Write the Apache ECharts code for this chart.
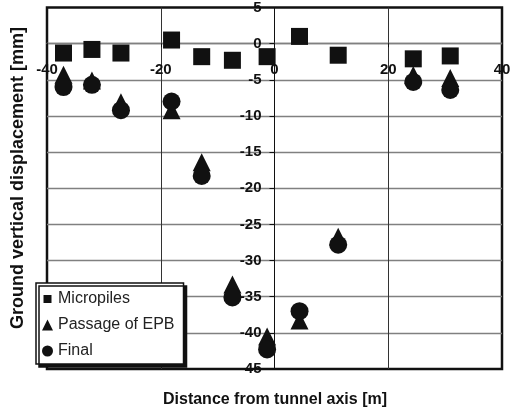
<!DOCTYPE html>
<html><head><meta charset="utf-8">
<script src="https://cdn.jsdelivr.net/npm/echarts@6/dist/echarts.min.js"></script>
<style>html,body{margin:0;padding:0;background:#fff}#c{width:518px;height:411px}</style>
</head><body><div id="c"></div>
<script>
const distances = [-37.1, -32.1, -27.0, -18.1, -12.8, -7.4, -1.3, 4.4, 11.2, 24.4, 30.9];
const micropiles = [-1.3, -0.8, -1.3, 0.5, -1.8, -2.3, -1.8, 1.0, -1.6, -2.1, -1.7];
const passageEPB = [-4.3, -5.1, -8.1, -9.2, -16.4, -33.3, -40.5, -38.3, -26.7, -4.35, -4.75];
const finalVals = [-6.0, -5.7, -9.2, -8.0, -18.3, -35.1, -42.3, -37.0, -27.8, -5.3, -6.4];
const seriesNames = ['Micropiles', 'Passage of EPB', 'Final'];
const xTitle = 'Distance from tunnel axis [m]';
const yTitle = 'Ground vertical displacement [mm]';

const FONT = '"Liberation Sans", Arial, Helvetica, sans-serif';
const INK = '#111';
const pairs = arr => distances.map((d, i) => [d, arr[i]]);

// grid geometry (layout only)
const W = 518, H = 411, GL = 47, GR = 16, GT = 7, GB = 42;
const xMin = -40, xMax = 40, yMin = -45, yMax = 5;
const gw = W - GL - GR, gh = H - GT - GB;
const yAxisShift = gw * (0 - xMin) / (xMax - xMin);      // move y axis to x = 0
const xAxisShift = gh * (0 - yMin) / (yMax - yMin);      // move x axis to y = 0

const chart = echarts.init(document.getElementById('c'), null, {renderer: 'canvas'});
chart.setOption({
  backgroundColor: '#fff',
  animation: false,
  grid: {left: GL, right: GR, top: GT, bottom: GB, show: true, borderColor: INK, borderWidth: 2.5, backgroundColor: 'transparent'},
  xAxis: {
    type: 'value', min: xMin, max: xMax, interval: 20, position: 'bottom', offset: -xAxisShift,
    axisLine: {show: true, onZero: false, lineStyle: {color: '#808080', width: 1.3}},
    axisTick: {show: true, length: 4, lineStyle: {color: INK}},
    axisLabel: {margin: 19, fontFamily: FONT, fontSize: 15, fontWeight: 'bold', color: INK},
    splitLine: {show: true, showMinLine: false, showMaxLine: false, lineStyle: {color: '#333', width: 1}}
  },
  yAxis: {
    type: 'value', min: yMin, max: yMax, interval: 5, position: 'left', offset: -yAxisShift,
    axisLine: {show: true, onZero: false, lineStyle: {color: INK, width: 1}},
    axisTick: {show: true, inside: false, length: 5, lineStyle: {color: INK}},
    axisLabel: {margin: 13, fontFamily: FONT, fontSize: 15, fontWeight: 'bold', color: INK, padding: [4, 0, 0, 0]},
    splitLine: {show: true, showMinLine: false, showMaxLine: false, lineStyle: {color: '#808080', width: 1.3}}
  },
  legend: {
    orient: 'vertical', left: 36, top: 283,
    padding: [8, 9, 5, 6], itemGap: 10, itemWidth: 11, itemHeight: 11,
    backgroundColor: '#fff', borderColor: INK, borderWidth: 1.5, borderRadius: 0,
    shadowColor: INK, shadowOffsetX: 3, shadowOffsetY: 3, shadowBlur: 0,
    textStyle: {fontFamily: FONT, fontSize: 16, lineHeight: 16, color: '#222'},
    data: [
      {name: seriesNames[0], icon: 'path://M0,0M11,11M1.5,1.5h8v8h-8z'},
      {name: seriesNames[1], icon: 'triangle'},
      {name: seriesNames[2], icon: 'circle'}
    ]
  },
  graphic: [
    {type: 'text', x: 275, y: 400, z: 10, style: {text: xTitle, align: 'center', verticalAlign: 'middle', fontFamily: FONT, fontSize: 16, fontWeight: 'bold', fill: INK}},
    {type: 'text', x: 18.5, y: 178, rotation: Math.PI / 2, z: 10, style: {text: yTitle, align: 'center', verticalAlign: 'middle', fontFamily: FONT, fontSize: 18, fontWeight: 'bold', fill: INK}}
  ],
  series: [
    {name: seriesNames[0], type: 'scatter', symbol: 'rect', symbolSize: 17, itemStyle: {color: INK, opacity: 1}, data: pairs(micropiles)},
    {name: seriesNames[1], type: 'scatter', symbol: 'triangle', symbolSize: 18, itemStyle: {color: INK, opacity: 1}, data: pairs(passageEPB)},
    {name: seriesNames[2], type: 'scatter', symbol: 'circle', symbolSize: 18, itemStyle: {color: INK, opacity: 1}, data: pairs(finalVals)}
  ]
});
</script></body></html>
